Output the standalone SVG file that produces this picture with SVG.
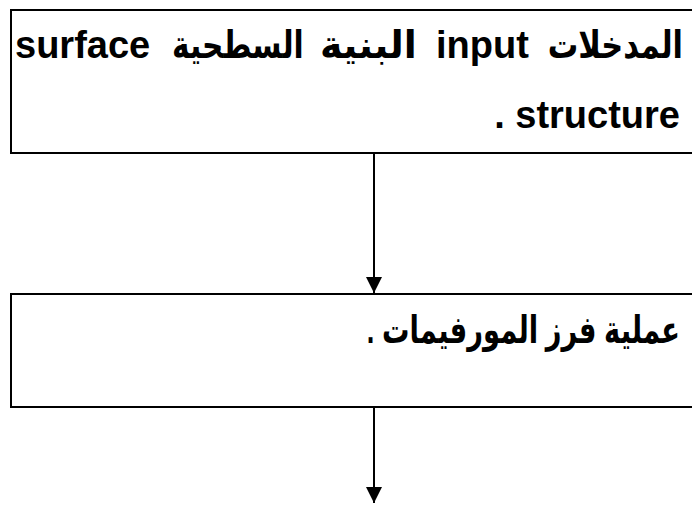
<svg xmlns="http://www.w3.org/2000/svg" width="692" height="505" viewBox="0 0 692 505">
  <defs>
    <marker id="arrow" viewBox="0 0 16 16" refX="16" refY="8" markerWidth="16" markerHeight="16" markerUnits="userSpaceOnUse" orient="auto">
      <path d="M0,0 L16,8 L0,16 Z" fill="#000"/>
    </marker>
  </defs>
  <style>
    .box { fill: #fff; stroke: #000; stroke-width: 2; }
    .edge { stroke: #000; stroke-width: 2; fill: none; }
    .t { font-family: "Liberation Sans", "DejaVu Sans", Arial, sans-serif; font-weight: bold; font-size: 38px; fill: #000; }
  </style>
  <rect width="692" height="505" fill="#fff"/>

  <!-- first step: surface structure as input (right-to-left paragraph, justified) -->
  <g id="input-node">
    <rect class="box" x="11" y="10" width="700" height="143"/>
    <text class="t" x="15" y="58">surface</text>
    <text class="t" transform="translate(172,58) scale(0.78,1)">السطحية</text>
    <text class="t" x="320" y="58">البنية</text>
    <text class="t" x="436" y="58">input</text>
    <text class="t" transform="translate(683,58) scale(0.8,1)" direction="rtl">المدخلات</text>
    <text class="t" x="680" y="128" direction="rtl">structure .</text>
  </g>

  <!-- second step: morpheme sorting -->
  <g id="sorting-node">
    <rect class="box" x="11" y="294" width="700" height="113"/>
    <text class="t" transform="translate(680,343) scale(0.72,1)" direction="rtl">عملية فرز المورفيمات .</text>
  </g>

  <g id="connectors">
    <line class="edge" x1="374" y1="153" x2="374" y2="293" marker-end="url(#arrow)"/>
    <line class="edge" x1="374" y1="407" x2="374" y2="503" marker-end="url(#arrow)"/>
  </g>
</svg>
